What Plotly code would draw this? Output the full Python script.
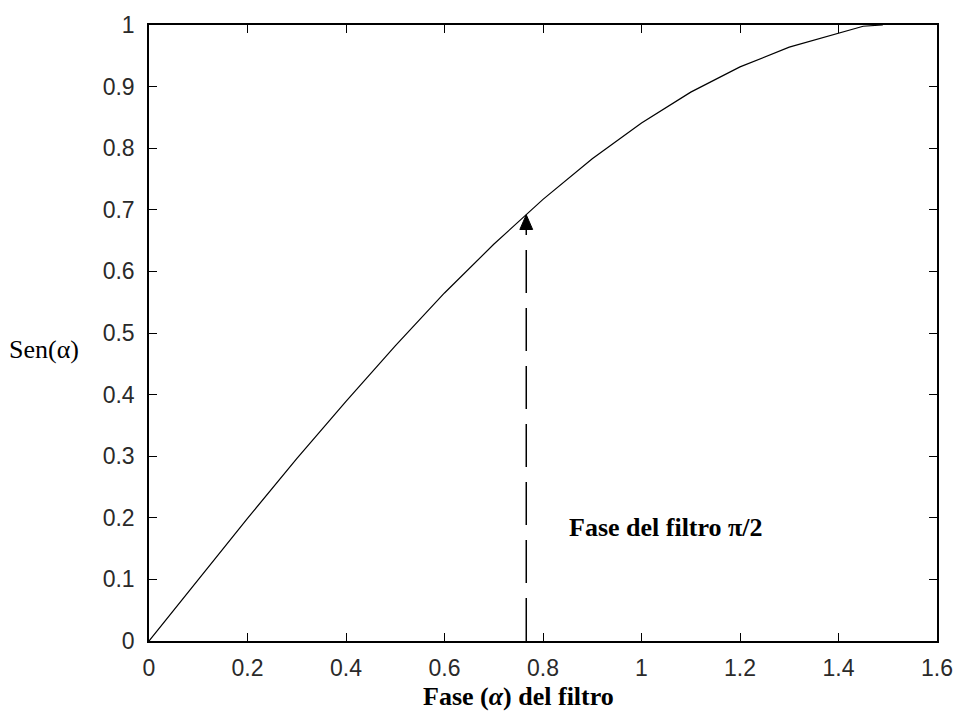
import plotly.graph_objects as go

# Curve data
fase = [0.0, 0.1, 0.2, 0.3, 0.4, 0.5, 0.6, 0.7, 0.8, 0.9, 1.0, 1.1, 1.2, 1.3, 1.4, 1.45, 1.49]
seno = [0.0, 0.100, 0.199, 0.296, 0.389, 0.479, 0.565, 0.644, 0.717, 0.783, 0.841, 0.891, 0.932, 0.964, 0.986, 0.998, 1.0]

xticks = [0, 0.2, 0.4, 0.6, 0.8, 1.0, 1.2, 1.4, 1.6]
xtick_labels = ["0", "0.2", "0.4", "0.6", "0.8", "1", "1.2", "1.4", "1.6"]
yticks = [0, 0.1, 0.2, 0.3, 0.4, 0.5, 0.6, 0.7, 0.8, 0.9, 1.0]
ytick_labels = ["0", "0.1", "0.2", "0.3", "0.4", "0.5", "0.6", "0.7", "0.8", "0.9", "1"]

arrow_x = 0.766
arrow_tip = 0.692
arrow_base = 0.668

W, H = 965, 712
ML, MR, MT, MB = 149, 16, 15, 71
XR = [0, 1.6]
YR = [0, 1]
px_x = (XR[1] - XR[0]) / (W - ML - MR)
head_half = 6.5 * px_x

fig = go.Figure()
fig.add_trace(go.Scatter(x=fase, y=seno, mode="lines",
                         line=dict(color="black", width=1.2), showlegend=False,
                         hoverinfo="skip", cliponaxis=False))
# arrow head
fig.add_trace(go.Scatter(x=[arrow_x - head_half, arrow_x + head_half, arrow_x, arrow_x - head_half],
                         y=[arrow_base, arrow_base, arrow_tip, arrow_base],
                         mode="lines", fill="toself", fillcolor="black",
                         line=dict(color="black", width=1), showlegend=False,
                         hoverinfo="skip"))

fig.add_shape(type="line", x0=arrow_x, x1=arrow_x, y0=0, y1=arrow_base,
              xref="x", yref="y", line=dict(color="black", width=1.5, dash="43px,15px"))

axis_common = dict(showgrid=False, zeroline=False, showline=True, linecolor="black",
                   linewidth=1.5, mirror="ticks", ticks="inside", ticklen=8,
                   tickwidth=1.2, tickcolor="black",
                   tickfont=dict(family="Liberation Sans, Arial, sans-serif", size=23, color="#2a2a2a"))

fig.update_xaxes(range=XR, tickvals=xticks, ticktext=xtick_labels,
                 ticklabelstandoff=6, **axis_common)
fig.update_yaxes(range=YR, tickvals=yticks, ticktext=ytick_labels,
                 ticklabelstandoff=8, **axis_common)

fig.add_annotation(text="Sen(α)", xref="paper", yref="paper", x=0, y=(641 - 345) / 626,
                   xanchor="right", yanchor="middle", xshift=-68, showarrow=False,
                   font=dict(family="Liberation Serif, Times New Roman, serif", size=26, color="black"))
fig.add_annotation(text="<b>Fase (<i>α</i>) del filtro</b>", xref="x", yref="paper",
                   x=0.75, y=(641 - 697) / 626, xanchor="center", yanchor="middle",
                   showarrow=False,
                   font=dict(family="Liberation Serif, Times New Roman, serif", size=26, color="black"))
fig.add_annotation(text="<b>Fase del filtro π/2</b>", xref="x", yref="y",
                   x=0.848, y=0.185, xanchor="left", yanchor="middle", showarrow=False,
                   font=dict(family="Liberation Serif, Times New Roman, serif", size=26, color="black"))

fig.update_layout(width=W, height=H, margin=dict(l=ML, r=MR, t=MT, b=MB),
                  paper_bgcolor="white", plot_bgcolor="white")

fig.write_html("out.html")
